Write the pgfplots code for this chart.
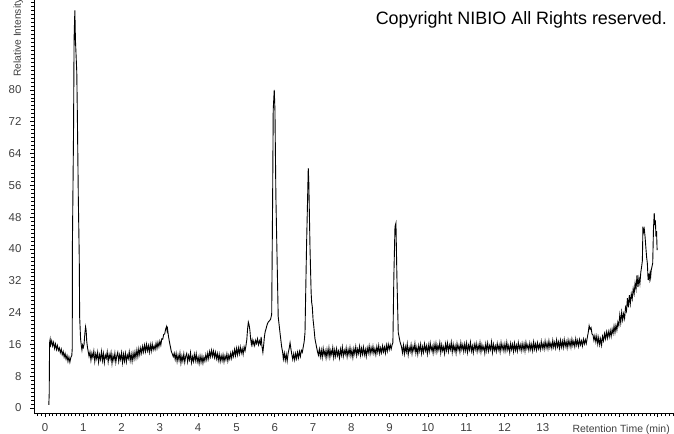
\documentclass[border=0pt]{standalone}
\usepackage{fontspec}
\setmainfont{Liberation Sans}
\usepackage{pgfplots}
\pgfplotsset{compat=1.18}
\usepackage{pgfplotstable}

% chromatogram trace: retention time (min), relative intensity
\pgfplotstableread{
t v
0.100 0.8
0.110 3.5
0.120 16.4
0.135 17.3
0.150 15.9
0.175 16.9
0.200 15.6
0.225 16.5
0.250 15.0
0.275 16.1
0.300 14.7
0.325 15.7
0.350 14.5
0.375 15.1
0.400 13.9
0.425 14.8
0.450 13.4
0.475 14.2
0.500 12.8
0.525 13.7
0.550 12.3
0.575 13.2
0.600 11.7
0.625 12.8
0.650 11.5
0.675 12.7
0.700 13.2
0.712 15.0
0.716 41.0
0.745 69.0
0.760 93.0
0.780 100.0
0.795 92.6
0.830 84.5
0.845 74.0
0.870 53.0
0.895 37.7
0.905 23.0
0.930 17.3
0.950 15.6
0.965 14.6
0.980 15.8
1.000 15.2
1.020 16.0
1.040 18.6
1.060 20.4
1.075 19.5
1.090 16.8
1.110 15.2
1.130 14.1
1.150 13.0
1.175 14.1
1.200 12.0
1.225 13.8
1.250 12.7
1.275 14.3
1.300 11.7
1.325 13.6
1.350 12.4
1.375 14.0
1.400 11.5
1.425 13.4
1.450 12.2
1.475 14.2
1.500 11.9
1.525 13.7
1.550 11.4
1.575 13.3
1.600 12.5
1.625 14.1
1.650 11.6
1.675 13.5
1.700 12.3
1.725 13.9
1.750 11.2
1.775 13.2
1.800 12.0
1.825 13.8
1.850 11.5
1.875 13.1
1.900 14.0
1.925 11.7
1.950 13.4
1.975 12.2
2.000 13.9
2.025 11.4
2.050 13.5
2.075 11.8
2.100 13.7
2.125 11.6
2.150 13.3
2.175 12.4
2.200 14.1
2.225 11.9
2.250 13.6
2.275 11.7
2.300 13.8
2.325 12.3
2.350 14.1
2.375 12.6
2.400 14.6
2.425 12.9
2.450 14.9
2.475 13.4
2.500 15.1
2.525 13.8
2.550 15.5
2.575 14.1
2.600 15.8
2.625 14.2
2.650 16.0
2.675 14.4
2.700 15.7
2.725 14.0
2.750 15.9
2.775 14.3
2.800 16.1
2.825 14.6
2.850 15.6
2.875 14.7
2.900 16.3
2.925 15.0
2.950 16.5
2.975 15.4
3.000 16.8
3.025 15.8
3.050 17.4
3.075 17.3
3.100 18.5
3.125 18.6
3.150 19.8
3.175 20.5
3.190 19.4
3.200 19.9
3.225 18.0
3.250 16.6
3.275 15.4
3.300 14.2
3.325 13.6
3.350 12.9
3.375 13.8
3.400 12.2
3.425 13.7
3.450 11.7
3.475 13.3
3.500 12.0
3.525 13.8
3.550 11.3
3.575 13.1
3.600 11.8
3.625 13.6
3.650 11.5
3.675 13.0
3.700 13.7
3.725 11.6
3.750 13.2
3.775 12.1
3.800 13.9
3.825 11.4
3.850 12.9
3.875 11.7
3.900 13.5
3.925 11.9
3.950 13.6
3.975 11.6
4.000 12.8
4.025 11.2
4.050 13.1
4.075 11.5
4.100 13.0
4.125 11.3
4.150 12.8
4.175 11.8
4.200 13.4
4.225 12.1
4.250 13.8
4.275 12.4
4.300 14.2
4.325 12.9
4.350 14.5
4.375 13.0
4.400 14.3
4.425 12.7
4.450 14.0
4.475 12.4
4.500 13.7
4.525 12.0
4.550 13.5
4.575 11.7
4.600 13.2
4.625 11.9
4.650 13.4
4.675 11.6
4.700 13.1
4.725 12.1
4.750 13.6
4.775 11.8
4.800 13.3
4.825 12.3
4.850 13.8
4.875 12.5
4.900 14.1
4.925 13.0
4.950 14.7
4.975 13.2
5.000 15.0
5.025 13.4
5.050 15.1
5.075 13.6
5.100 15.3
5.125 13.8
5.150 14.9
5.175 13.5
5.200 15.4
5.225 14.4
5.250 15.8
5.270 17.2
5.290 19.8
5.310 21.6
5.330 20.9
5.350 19.6
5.370 17.4
5.390 16.0
5.410 17.1
5.430 15.9
5.450 16.8
5.475 15.7
5.500 17.0
5.525 16.2
5.550 17.4
5.575 15.9
5.600 16.9
5.625 16.1
5.645 17.9
5.665 15.6
5.690 14.0
5.710 15.8
5.730 17.9
5.750 19.2
5.770 19.8
5.790 20.6
5.810 21.2
5.830 21.6
5.860 21.9
5.890 22.3
5.920 23.5
5.945 53.2
5.960 75.0
5.987 80.0
6.005 75.0
6.030 53.0
6.065 35.5
6.090 23.0
6.136 19.0
6.180 15.4
6.205 14.1
6.225 12.3
6.250 13.8
6.275 12.0
6.300 13.5
6.325 11.8
6.350 13.8
6.375 14.9
6.400 16.4
6.420 15.0
6.445 13.5
6.470 12.2
6.495 13.6
6.520 12.1
6.545 13.7
6.570 12.4
6.595 14.0
6.620 12.6
6.645 14.2
6.670 13.0
6.695 14.5
6.720 14.0
6.745 15.4
6.770 16.8
6.790 19.0
6.830 40.6
6.875 60.3
6.890 56.6
6.920 40.6
6.950 29.0
6.965 26.5
6.980 25.5
7.000 22.3
7.020 20.5
7.050 17.4
7.090 15.4
7.115 14.2
7.140 13.3
7.165 14.8
7.190 12.9
7.215 14.6
7.240 12.7
7.265 15.0
7.290 13.3
7.315 14.4
7.340 12.6
7.365 14.7
7.390 13.1
7.415 15.1
7.440 12.8
7.465 14.5
7.490 13.4
7.515 15.2
7.540 12.7
7.565 14.6
7.590 13.0
7.615 14.9
7.640 13.2
7.665 14.3
7.690 12.6
7.715 14.8
7.740 13.3
7.765 15.3
7.790 13.0
7.815 14.5
7.840 13.5
7.865 15.1
7.890 12.9
7.915 14.7
7.940 13.4
7.965 15.2
7.990 13.1
8.015 14.6
8.040 12.7
8.065 14.9
8.090 13.6
8.115 15.4
8.140 13.2
8.165 14.8
8.190 13.7
8.215 15.5
8.240 13.3
8.265 15.0
8.290 13.5
8.315 15.3
8.340 13.4
8.365 14.7
8.390 13.0
8.415 15.1
8.440 13.8
8.465 15.6
8.490 13.6
8.515 15.2
8.540 13.9
8.565 15.5
8.590 13.7
8.615 14.9
8.640 13.4
8.665 15.4
8.690 14.0
8.715 15.7
8.740 13.7
8.765 15.1
8.790 13.9
8.815 15.6
8.840 14.1
8.865 15.3
8.890 13.8
8.915 15.8
8.940 14.3
8.965 16.0
8.990 14.7
9.015 15.9
9.040 14.8
9.065 15.9
9.085 16.4
9.110 33.0
9.140 45.6
9.165 46.5
9.190 33.0
9.225 19.0
9.270 16.7
9.310 15.4
9.335 13.9
9.360 15.8
9.385 13.6
9.410 15.4
9.435 14.1
9.460 16.1
9.485 13.4
9.510 15.2
9.535 14.2
9.560 15.9
9.585 13.7
9.610 15.5
9.635 14.4
9.660 16.2
9.685 13.8
9.710 15.3
9.735 13.5
9.760 15.7
9.785 14.3
9.810 16.0
9.835 13.7
9.860 15.4
9.885 14.0
9.910 16.1
9.935 14.4
9.960 15.6
9.985 13.6
10.010 15.8
10.035 14.2
10.060 16.3
10.085 14.5
10.110 15.5
10.135 13.8
10.160 16.0
10.185 14.3
10.210 16.2
10.235 14.1
10.260 15.7
10.285 14.6
10.310 16.4
10.335 13.9
10.360 15.9
10.385 14.4
10.410 15.4
10.435 13.7
10.460 16.1
10.485 14.5
10.510 16.3
10.535 14.2
10.560 15.8
10.585 14.7
10.610 16.5
10.635 14.0
10.660 16.0
10.685 14.4
10.710 15.6
10.735 13.8
10.760 16.2
10.785 14.6
10.810 15.7
10.835 14.1
10.860 16.4
10.885 14.7
10.910 15.9
10.935 14.2
10.960 16.1
10.985 14.4
11.010 16.3
11.035 14.0
11.060 15.8
11.085 14.6
11.110 16.5
11.135 14.3
11.160 15.6
11.185 13.9
11.210 16.0
11.235 14.7
11.260 16.2
11.285 14.2
11.310 15.8
11.335 14.5
11.360 16.4
11.385 14.1
11.410 15.9
11.435 14.6
11.460 15.5
11.485 13.8
11.510 16.1
11.535 14.4
11.560 16.3
11.585 14.3
11.610 15.7
11.635 14.7
11.660 16.6
11.685 14.0
11.710 16.0
11.735 14.5
11.760 15.6
11.785 14.2
11.810 16.2
11.835 14.6
11.860 15.8
11.885 14.1
11.910 16.4
11.935 14.7
11.960 15.9
11.985 14.3
12.010 16.1
12.035 14.4
12.060 16.5
12.085 14.6
12.110 15.7
12.135 14.0
12.160 16.2
12.185 14.7
12.210 16.0
12.235 14.2
12.260 16.3
12.285 14.5
12.310 15.8
12.335 14.3
12.360 16.4
12.385 14.8
12.410 15.9
12.435 14.4
12.460 16.2
12.485 14.6
12.510 16.1
12.535 14.3
12.560 16.5
12.585 14.9
12.610 15.9
12.635 14.5
12.660 16.3
12.685 14.7
12.710 16.0
12.735 14.4
12.760 16.6
12.785 14.8
12.810 16.1
12.835 14.6
12.860 16.4
12.885 14.9
12.910 16.0
12.935 14.7
12.960 16.7
12.985 15.0
13.010 16.2
13.035 14.8
13.060 16.8
13.085 15.1
13.110 16.4
13.135 14.9
13.160 16.9
13.185 15.2
13.210 16.3
13.235 15.0
13.260 17.0
13.285 15.3
13.310 16.5
13.335 15.1
13.360 17.1
13.385 15.4
13.410 16.6
13.435 15.0
13.460 17.0
13.485 15.3
13.510 16.8
13.535 15.2
13.560 17.2
13.585 15.5
13.610 16.7
13.635 15.1
13.660 17.1
13.685 15.6
13.710 16.9
13.735 15.3
13.760 17.3
13.785 15.7
13.810 16.8
13.835 15.4
13.860 17.4
13.885 15.8
13.910 17.0
13.935 15.5
13.960 17.2
13.985 15.9
14.010 16.9
14.035 15.6
14.060 17.3
14.085 16.1
14.110 17.2
14.135 16.2
14.160 17.6
14.185 18.9
14.210 20.7
14.235 19.8
14.260 20.2
14.285 18.6
14.310 18.4
14.335 17.0
14.360 18.2
14.385 16.6
14.410 18.1
14.435 16.1
14.460 17.7
14.485 15.9
14.510 17.4
14.535 15.8
14.560 18.0
14.585 16.9
14.610 18.7
14.635 17.4
14.660 19.1
14.685 17.6
14.710 19.2
14.735 17.9
14.760 19.5
14.785 18.0
14.810 19.8
14.835 18.7
14.860 20.6
14.885 19.0
14.910 20.8
14.935 19.6
14.960 21.6
14.985 20.7
15.010 23.4
15.035 21.4
15.060 24.1
15.085 22.1
15.110 23.7
15.135 22.5
15.160 25.3
15.185 24.4
15.210 27.6
15.235 25.3
15.260 28.4
15.285 26.2
15.310 28.7
15.335 27.4
15.360 30.0
15.385 28.7
15.410 31.4
15.435 29.9
15.460 33.4
15.485 30.4
15.510 32.7
15.535 31.2
15.560 34.2
15.580 35.5
15.600 37.0
15.615 45.6
15.630 44.2
15.650 45.0
15.670 43.1
15.690 40.5
15.710 38.0
15.730 36.4
15.750 32.2
15.765 33.8
15.780 32.4
15.800 33.9
15.815 32.8
15.830 34.6
15.850 35.5
15.870 36.4
15.890 45.0
15.910 49.0
15.925 46.0
15.940 47.2
15.955 43.1
15.970 44.5
15.985 39.7
}\trace

\begin{document}
\begin{tikzpicture}
\begin{axis}[
  scale only axis,
  width=639bp, height=413bp,
  xmin=-0.287, xmax=16.40,
  ymin=-1.26, ymax=102.6,
  axis x line*=bottom, axis y line*=left,
  axis line style={-, black, line width=0.7bp},
  tick align=outside,
  major tick length=4bp, minor tick length=3bp,
  tick style={black, line width=0.6bp},
  xtick={0,1,...,16},
  xticklabels={0,1,2,3,4,5,6,7,8,9,10,11,12,13,{},{},{}},
  minor xtick={-0.2,-0.1,...,16.35},
  ytick={0,8,...,80},
  minor ytick={0,1,...,102},
  /pgf/number format/assume math mode=true,
  tick label style={font=\fontsize{11.5}{13}\selectfont, text=black!75},
  xticklabel style={yshift=-3bp},
  yticklabel style={xshift=-5bp},
  clip=false,
]
\addplot[black, line width=0.9bp] table[x=t, y=v] {\trace};
\coordinate (bl) at (rel axis cs:0,0);
\coordinate (tr) at (rel axis cs:1,1);
\end{axis}
\node[anchor=base east, font=\fontsize{18}{20}\selectfont, inner sep=0pt]
  at ([shift={(-6bp,-25bp)}]tr) {Copyright NIBIO All Rights reserved.};
\node[anchor=base east, font=\fontsize{10.5}{12}\selectfont, text=black!75, inner sep=0pt]
  at ([shift={(636bp,-19bp)}]bl) {Retention Time (min)};
\node[rotate=90, anchor=base west, font=\fontsize{10.3}{12}\selectfont, text=black!75, inner sep=0pt]
  at ([shift={(-13bp,336bp)}]bl) {Relative Intensity};
\pgfresetboundingbox
\path ([shift={(-34bp,-21bp)}]bl) rectangle ([shift={(1bp,0bp)}]tr);
\end{tikzpicture}
\end{document}
